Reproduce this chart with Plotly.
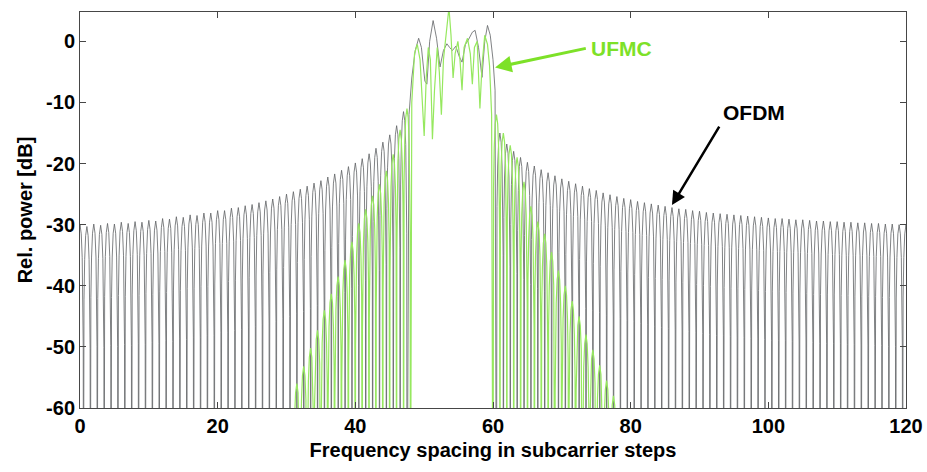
import plotly.graph_objects as go

# ---------------- data ----------------
# OFDM side-lobe peak levels [dB], one per subcarrier (peak centred on integer k)
ofdm_left_k = list(range(0, 48))
ofdm_left_peak = [-30.0, -30.3, -29.9, -30.1, -29.8, -29.9, -29.6, -29.8, -29.5, -29.6,
                  -29.3, -29.4, -29.0, -29.1, -28.7, -28.8, -28.4, -28.5, -28.1, -28.1,
                  -27.7, -27.7, -27.3, -27.2, -26.9, -26.7, -26.4, -26.1, -25.8, -25.4,
                  -25.0, -24.6, -24.2, -23.7, -23.2, -22.8, -22.2, -21.7, -21.1, -20.5,
                  -19.9, -19.2, -18.4, -17.5, -16.5, -15.3, -13.8, -11.5]
ofdm_right_k = list(range(61, 121))
ofdm_right_peak = [-15.0, -16.8, -18.0, -19.0, -19.8, -20.4, -21.0, -21.5, -22.0, -22.5,
                   -22.9, -23.3, -23.7, -24.1, -24.4, -24.8, -25.1, -25.4, -25.7, -25.9,
                   -26.2, -26.4, -26.6, -26.8, -27.0, -27.2, -27.4, -27.5, -27.7, -27.8,
                   -28.0, -28.1, -28.2, -28.3, -28.4, -28.5, -28.6, -28.7, -28.8, -28.9,
                   -29.0, -29.0, -29.1, -29.2, -29.2, -29.3, -29.4, -29.4, -29.5, -29.5,
                   -29.6, -29.6, -29.7, -29.7, -29.8, -29.8, -29.9, -29.9, -30.0, -30.0]
# OFDM in-band curve
ofdm_band_x = [47.5, 47.8, 48.2, 48.7, 49.2, 49.6, 50.1, 50.4, 50.8, 51.3, 51.8, 52.3, 52.8,
               53.3, 53.7, 54.1, 54.6, 55.1, 55.5, 56.0, 56.4, 57.0, 57.4, 57.9, 58.4,
               58.8, 59.2, 59.6, 60.0, 60.3, 60.5]
ofdm_band_y = [-90, -12, -6, -1.5, 0.5, -1.0, -6.5, -7.0, 0.0, 3.4, 0.5, -4.2, -1.5,
               -0.4, -1.0, -1.5, -0.8, -2.5, -3.4, -0.5, 0.2, 1.5, 1.8, -1.0, -5.9,
               0.0, 2.6, 1.0, -3.0, -8.0, -90]

# UFMC side-lobe peak levels [dB] (peak centred on k + 0.5)
ufmc_left_k = list(range(31, 48))
ufmc_left_peak = [-56.0, -53.2, -50.2, -47.3, -44.0, -41.3, -38.5, -35.8, -32.8, -29.8,
                  -27.5, -25.3, -23.4, -21.2, -18.5, -14.5, -11.0]
ufmc_right_k = list(range(60, 78))
ufmc_right_peak = [-12.0, -15.0, -17.0, -19.0, -23.0, -27.0, -29.5, -31.5, -34.5, -37.5,
                   -40.0, -42.5, -45.0, -48.0, -50.5, -53.0, -55.5, -58.0]
# UFMC in-band curve
ufmc_band_x = [48.0, 48.2, 48.6, 49.0, 49.4, 49.8, 50.0, 50.3, 50.6, 50.9, 51.2, 51.5,
               51.9, 52.2, 52.5, 52.8, 53.3, 53.6, 53.9, 54.2, 54.5, 54.9, 55.2, 55.5,
               55.8, 56.3, 56.7, 57.0, 57.3, 57.7, 58.1, 58.4, 58.8, 59.2, 59.5, 59.8, 60.0]
ufmc_band_y = [-90, -10, -2, -0.5, -3, -12, -15.5, -6, -1, -3, -16, -8,
               -1, -5, -12, -3, 3, 5.5, 1, -6, -2, 0, -3, -8,
               -1, 0.5, -2, -7, -1, 0, -11, -4, 1, -0.5, -4, -12, -90]

x_ticks = [0, 20, 40, 60, 80, 100, 120]
y_ticks = [-60, -50, -40, -30, -20, -10, 0]

# ---------------- lobe drawing style ----------------
NULL_DB = -90
LOBE_U = [0.03, 0.08, 0.18, 0.32, 0.5, 0.68, 0.82, 0.92, 0.97]
LOBE_DROP = [-20, -12, -5.4, -1.5, 0, -1.5, -5.4, -12, -20]


def lobes(starts, peaks):
    xs, ys = [], []
    for s, p in zip(starts, peaks):
        xs.append(s)
        ys.append(NULL_DB)
        for u, d in zip(LOBE_U, LOBE_DROP):
            xs.append(s + u)
            ys.append(p + d)
    return xs, ys


ox1, oy1 = lobes([k - 0.5 for k in ofdm_left_k], ofdm_left_peak)
ox2, oy2 = lobes([k - 0.5 for k in ofdm_right_k], ofdm_right_peak)
ofdm_x = ox1 + ofdm_band_x + ox2[1:] + [ofdm_right_k[-1] + 0.5]
ofdm_y = oy1 + ofdm_band_y + oy2[1:] + [NULL_DB]

ux1, uy1 = lobes(ufmc_left_k, ufmc_left_peak)
ux2, uy2 = lobes(ufmc_right_k, ufmc_right_peak)
ufmc_x = ux1 + ufmc_band_x + ux2[1:] + [ufmc_right_k[-1] + 1]
ufmc_y = uy1 + ufmc_band_y + uy2[1:] + [NULL_DB]

fig = go.Figure()
fig.add_trace(go.Scatter(x=ofdm_x, y=ofdm_y, mode="lines",
                         line=dict(color="rgb(95,98,100)", width=0.8), name="OFDM"))
fig.add_trace(go.Scatter(x=ufmc_x, y=ufmc_y, mode="lines",
                         line=dict(color="rgb(150,232,95)", width=1.2), name="UFMC"))

FONT = "Liberation Sans, Arial, sans-serif"
fig.add_annotation(x=60.3, y=-4.3, ax=73.7, ay=-1.1, axref="x", ayref="y", xref="x", yref="y",
                   text="", showarrow=True, arrowhead=2, arrowsize=1.1, arrowwidth=3,
                   arrowcolor="rgb(125,225,40)")
fig.add_annotation(x=78.7, y=-1.2, xref="x", yref="y", text="UFMC", showarrow=False,
                   font=dict(family=FONT, size=21, color="rgb(125,225,40)", weight="bold"))
fig.add_annotation(x=86.0, y=-26.8, ax=93.0, ay=-13.7, axref="x", ayref="y", xref="x", yref="y",
                   text="", showarrow=True, arrowhead=2, arrowsize=1.1, arrowwidth=2.5,
                   arrowcolor="black")
fig.add_annotation(x=97.9, y=-11.6, xref="x", yref="y", text="OFDM", showarrow=False,
                   font=dict(family=FONT, size=21, color="black", weight="bold"))

axis_common = dict(showline=True, mirror="ticks", linecolor="rgb(70,70,70)", linewidth=1,
                   ticks="inside", ticklen=6, tickcolor="rgb(70,70,70)", showgrid=False,
                   zeroline=False,
                   tickfont=dict(family=FONT, size=20, color="black", weight="bold"))
fig.update_xaxes(range=[0, 120], tickvals=x_ticks, ticktext=[str(v) for v in x_ticks],
                 title=dict(text="Frequency spacing in subcarrier steps", standoff=6,
                            font=dict(family=FONT, size=20, color="black", weight="bold")),
                 **axis_common)
fig.update_yaxes(range=[-60, 4.8], tickvals=y_ticks, ticktext=[str(v) for v in y_ticks],
                 title=dict(text="Rel. power [dB]", standoff=8,
                            font=dict(family=FONT, size=20, color="black", weight="bold")),
                 **axis_common)
fig.update_layout(width=927, height=472, margin=dict(l=80, r=21, t=12, b=64, autoexpand=False),
                  paper_bgcolor="white", plot_bgcolor="white", showlegend=False)
fig.write_html("out.html")
